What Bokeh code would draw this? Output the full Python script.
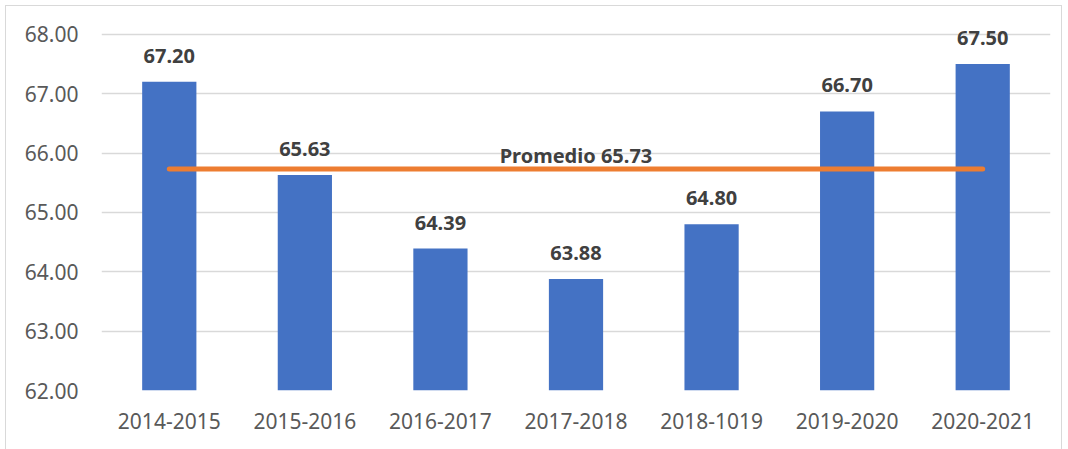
from bokeh.plotting import figure
from bokeh.models import ColumnDataSource, FixedTicker, Range1d, NumeralTickFormatter
from bokeh.core.properties import value
from bokeh.embed import file_html
from bokeh.resources import INLINE

periods = ["2014-2015", "2015-2016", "2016-2017", "2017-2018", "2018-1019", "2019-2020", "2020-2021"]
values = [67.20, 65.63, 64.39, 63.88, 64.80, 66.70, 67.50]
average = 65.73
avg_label = "Promedio 65.73"
y_ticks = [62, 63, 64, 65, 66, 67, 68]

FONT = "Noto Sans"

p = figure(x_range=periods, y_range=Range1d(62, 68.4), width=1057, height=444,
           output_backend="svg", toolbar_location=None,
           min_border_left=95, min_border_right=13, min_border_top=4, min_border_bottom=60)
p.x_range.range_padding = 0
p.margin = (5, 5, 0, 5)
p.styles = {"border-left": "1px solid #d9d9d9", "border-top": "1px solid #d9d9d9",
            "border-right": "1px solid #d9d9d9", "box-sizing": "border-box"}

src = ColumnDataSource(dict(x=periods, top=values, lab=[f"{v:.2f}" for v in values]))
p.vbar(x="x", top="top", bottom=62, width=0.4, source=src, color="#4472C4", line_color=None)

p.line(x=[periods[0], periods[-1]], y=[average, average], line_color="#ED7D31",
       line_width=5, line_cap="round")

p.text(x="x", y="top", text="lab", source=src, text_align="center", text_baseline="alphabetic",
       y_offset=-26, text_font=value(FONT), text_font_style="bold", text_font_size="20px",
       text_color="#404040")
p.text(x=[periods[3]], y=[average], text=[avg_label], text_align="center",
       text_baseline="alphabetic", y_offset=-14, text_font=value(FONT), text_font_style="bold",
       text_font_size="20px", text_color="#404040")

p.yaxis.ticker = FixedTicker(ticks=y_ticks)
p.yaxis.formatter = NumeralTickFormatter(format="0.00")

for ax in (p.xaxis, p.yaxis):
    ax.axis_line_color = None
    ax.major_tick_line_color = None
    ax.minor_tick_line_color = None
    ax.major_tick_out = 0
    ax.major_label_text_font = FONT
    ax.major_label_text_font_size = "21px"
    ax.major_label_text_color = "#595959"
p.xaxis.major_label_standoff = 22
p.yaxis.major_label_standoff = 23

p.xgrid.grid_line_color = None
p.ygrid.grid_line_color = "#d9d9d9"
p.ygrid.grid_line_width = 1.5
p.outline_line_color = None

open("out.html", "w").write(file_html(p, INLINE))
